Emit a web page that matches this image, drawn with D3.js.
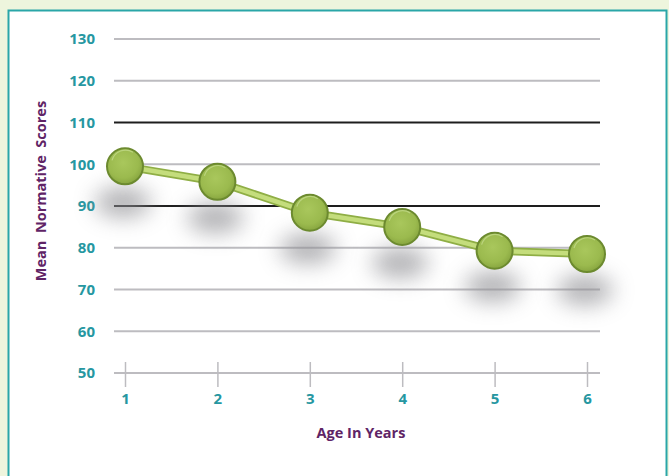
<!DOCTYPE html>
<html><head><meta charset="utf-8">
<script src="https://cdn.jsdelivr.net/npm/d3@7/dist/d3.min.js"></script>
<style>
html,body{margin:0;padding:0;background:#eef5dd;}
svg{display:block;}
</style></head>
<body>
<script>
const ages = [1, 2, 3, 4, 5, 6];
const scores = [99.5, 95.8, 88.4, 85.0, 79.3, 78.5];
const yTicks = [50, 60, 70, 80, 90, 100, 110, 120, 130];
const darkLines = [90, 110];
const xTitle = "Age In Years";
const yTitle = "Mean  Normative  Scores";

const W = 669, H = 476;
const svg = d3.select("body").append("svg").attr("width", W).attr("height", H);
const defs = svg.append("defs");

const blur = defs.append("filter").attr("id", "blur").attr("x", "-100%").attr("y", "-100%").attr("width", "300%").attr("height", "300%");
blur.append("feGaussianBlur").attr("stdDeviation", 11);

const rg = defs.append("radialGradient").attr("id", "ball").attr("cx", "45%").attr("cy", "40%").attr("r", "60%");
rg.append("stop").attr("offset", "0%").attr("stop-color", "#a9c75c");
rg.append("stop").attr("offset", "70%").attr("stop-color", "#9bba4e");
rg.append("stop").attr("offset", "100%").attr("stop-color", "#88a640");

// background frame
svg.append("rect").attr("x", 0).attr("y", 0).attr("width", W).attr("height", H).attr("fill", "#eef5dd");
svg.append("rect").attr("x", 8.5).attr("y", 10.5).attr("width", 658).attr("height", 480)
  .attr("fill", "#ffffff").attr("stroke", "#2aa6a8").attr("stroke-width", 2);

const x = d3.scaleLinear().domain([1, 6]).range([125, 587]);
const y = d3.scaleLinear().domain([50, 130]).range([373, 39]);

const font = "Open Sans, Noto Sans, sans-serif";

// gridlines
const g = svg.append("g");
g.selectAll("line.grid").data(yTicks).join("line")
  .attr("class", "grid")
  .attr("x1", 114).attr("x2", 600)
  .attr("y1", d => y(d)).attr("y2", d => y(d))
  .attr("stroke", d => darkLines.includes(d) ? "#1e1e1e" : "#bdbcc0")
  .attr("stroke-width", 2);

// y tick labels
g.selectAll("text.yt").data(yTicks).join("text")
  .attr("class", "yt")
  .attr("x", 95).attr("y", d => y(d)).attr("dy", "0.36em")
  .attr("text-anchor", "end")
  .attr("font-family", font)
  .attr("font-weight", "bold").attr("font-size", 15)
  .attr("fill", "#2697a1")
  .text(d => d);

// x axis ticks
const xa = svg.append("g").attr("transform", `translate(0,${y(50)})`)
  .call(d3.axisBottom(x).tickValues(ages).tickSize(14).tickFormat(d3.format("d")));
xa.select(".domain").remove();
xa.selectAll(".tick line").attr("y1", -11).attr("y2", 14).attr("stroke", "#bdbcc0").attr("stroke-width", 1.5);
xa.selectAll(".tick text")
  .attr("y", 20).attr("dy", "0.71em")
  .attr("font-family", font)
  .attr("font-weight", "bold").attr("font-size", 15)
  .attr("fill", "#2697a1");

// titles
svg.append("text").attr("x", 361).attr("y", 438).attr("text-anchor", "middle")
  .attr("font-family", font).attr("font-weight", "bold").attr("font-size", 14.5)
  .attr("fill", "#5f2466").attr("style", "white-space:pre").text(xTitle);
svg.append("text").attr("transform", "translate(46,191) rotate(-90)").attr("text-anchor", "middle")
  .attr("font-family", font).attr("font-weight", "bold").attr("font-size", 14.5)
  .attr("fill", "#5f2466").attr("style", "white-space:pre").text(yTitle);

const data = ages.map((a, i) => ({a, v: scores[i]}));

// shadows
svg.append("g").selectAll("ellipse").data(data).join("ellipse")
  .attr("cx", d => x(d.a) - 2).attr("cy", d => y(d.v) + 36)
  .attr("rx", 28).attr("ry", 15)
  .attr("fill", "#909094").attr("opacity", 0.7)
  .attr("filter", "url(#blur)");

// line
const line = d3.line().x(d => x(d.a)).y(d => y(d.v));
svg.append("path").datum(data).attr("d", line).attr("fill", "none")
  .attr("stroke", "#8fae45").attr("stroke-width", 8).attr("stroke-linejoin", "round");
svg.append("path").datum(data).attr("d", line).attr("fill", "none")
  .attr("stroke", "#c4dd7c").attr("stroke-width", 4.5).attr("stroke-linejoin", "round");

// markers
const m = svg.append("g").selectAll("g").data(data).join("g")
  .attr("transform", d => `translate(${x(d.a)},${y(d.v)})`);
m.append("circle").attr("r", 18).attr("fill", "url(#ball)").attr("stroke", "#6c8a2f").attr("stroke-width", 2);
m.append("path").attr("d", "M-13,-6 A14,14 0 0 1 8,-14").attr("fill", "none")
  .attr("stroke", "#c2d98a").attr("stroke-width", 1.2).attr("opacity", 0.8);
</script>
</body></html>
